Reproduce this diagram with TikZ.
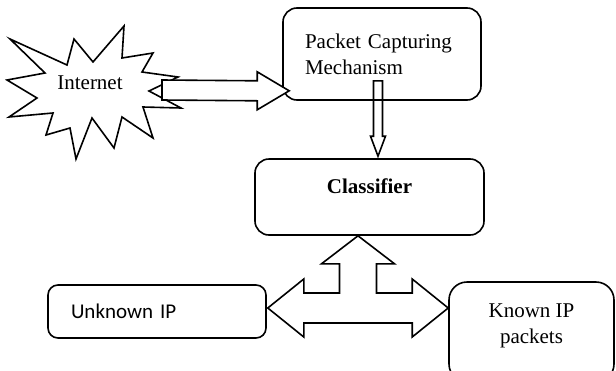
\documentclass[tikz,border=0pt]{standalone}
\usepackage{fontspec}
\setmainfont{Liberation Serif}
\newfontfamily\calibri{Carlito}
\usetikzlibrary{calc}

\tikzset{
  box/.style={draw, line width=1.6pt, inner sep=0pt},
  blockarrow/.style={draw, line width=1.6pt, fill=white, line join=miter},
  burst/.style={draw, line width=1.6pt, fill=white, line join=miter},
}

\begin{document}
\begin{tikzpicture}[x=1pt, y=-1pt, font=\fontsize{21}{26}\selectfont]
  \useasboundingbox (0,0) rectangle (616,370);

  % the internet cloud
  \draw[burst] (10,39) -- (67,65) -- (74,39) -- (93,62) -- (124,26) -- (122,58)
    -- (153,53) -- (142,72) -- (178,77) -- (149,91) -- (181,108) -- (143,107)
    -- (153,138) -- (122,117) -- (114,148) -- (92,118) -- (76,159) -- (70,128)
    -- (46,135) -- (53,113) -- (9,117) -- (37,98) -- (7,80) -- (45,73) -- cycle;
  \node (inet) at (90,83) {Internet};

  % boxes
  \node[box, rounded corners=14pt, minimum width=198pt, minimum height=92pt,
        text width=154pt, align=left] (pcm) at (382,54)
        {Packet Capturing\\Mechanism};
  \node[box, rounded corners=14pt, minimum width=229pt, minimum height=76pt,
        text height=15pt, text depth=23pt, font=\fontsize{21}{26}\selectfont\bfseries]
        (cls) at (369.5,197) {Classifier};
  \node[box, rounded corners=10pt, minimum width=218pt, minimum height=53pt,
        text width=172pt, align=left, font=\fontsize{21}{26}\calibri]
        (unk) at (157,311.5) {Unknown IP};
  \node[box, rounded corners=18pt, minimum width=165pt, minimum height=100pt,
        align=center, text depth=16pt] (kn) at (531.5,332) {Known IP\\packets};

  % arrow ends
  \coordinate (inTail) at ($(inet.center)+(72,7)$);
  \coordinate (inTip) at ($(pcm.south west)+(7,-10)$);
  \coordinate (pcTail) at ($(pcm.south)+(-4,-20)$);
  \coordinate (pcTip) at ($(cls.north)+(8.5,-2)$);
  \coordinate (clsTip) at ($(cls.south)+(-11.5,0)$);
  \coordinate (unkTip) at ($(unk.east)+(1,-3.5)$);
  \coordinate (knTip) at ($(kn.west)+(0,-24)$);

  % internet -> capturing
  \draw[blockarrow] ($(inTail)+(0,-10)$) -- ($(inTip)+(-32,-10)$) -- ($(inTip)+(-32,-19)$)
    -- (inTip) -- ($(inTip)+(-32,19)$) -- ($(inTip)+(-32,10)$) -- ($(inTail)+(0,10)$) -- cycle;

  % capturing -> classifier
  \draw[blockarrow, fill=none] ($(pcTail)+(-4.5,0)$) -- ($(pcTip)+(-4.5,-20)$) -- ($(pcTip)+(-7.5,-20)$)
    -- (pcTip) -- ($(pcTip)+(7.5,-20)$) -- ($(pcTip)+(4.5,-20)$) -- ($(pcTail)+(4.5,0)$) -- cycle;

  % classifier <-> unknown / known
  \draw[blockarrow] (clsTip) -- ++(36.5,28) -- ++(-18,0) |- ($(knTip)+(-36,-15)$)
    -- ++(0,-14) -- (knTip) -- ++(-36,29) -- ++(0,-14) -- ($(unkTip)+(36,15)$)
    -- ++(0,14) -- (unkTip) -- ++(36,-29) -- ++(0,14) -| ($(clsTip)+(-18.5,28)$)
    -- ++(-18,0) -- cycle;
\end{tikzpicture}
\end{document}
